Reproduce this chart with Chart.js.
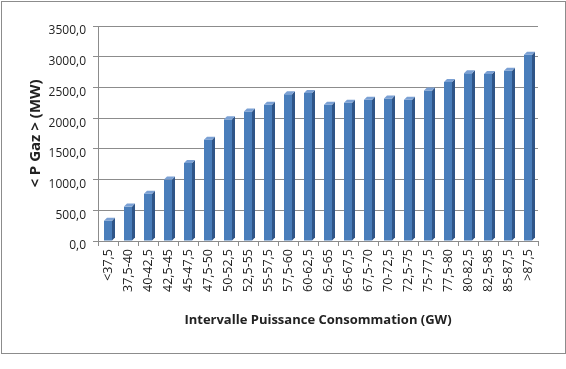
<!DOCTYPE html>
<html>
<head>
<meta charset="utf-8">
<script src="https://cdn.jsdelivr.net/npm/chart.js@4/dist/chart.umd.min.js"></script>
<style>
    html, body { margin: 0; padding: 0; background: #fff; }
    #chartBox { position: absolute; left: 0; top: 0; width: 566px; height: 369px; }
    #frame {
        position: absolute; left: 1px; top: 1px;
        width: 563px; height: 351px;
        border: 1px solid #8c8c8c;
        pointer-events: none;
    }
</style>
</head>
<body>
<div id="chartBox"><canvas id="gazChart"></canvas></div>
<div id="frame"></div>
<script>
// Intervals of consumption (GW)
const categories = [
    '<37,5', '37,5-40', '40-42,5', '42,5-45', '45-47,5', '47,5-50', '50-52,5',
    '52,5-55', '55-57,5', '57,5-60', '60-62,5', '62,5-65', '65-67,5', '67,5-70',
    '70-72,5', '72,5-75', '75-77,5', '77,5-80', '80-82,5', '82,5-85', '85-87,5', '>87,5'
];
// Mean gas power (MW)
const gazValues = [
    330, 560, 770, 1000, 1270, 1650, 1980, 2110, 2220, 2390, 2410,
    2220, 2250, 2300, 2320, 2300, 2450, 2590, 2730, 2720, 2770, 3030
];
const yTicks = [0, 500, 1000, 1500, 2000, 2500, 3000, 3500];

const fontFamily = "'Open Sans', 'Liberation Sans', sans-serif";

// small 3D look for the columns: side and top faces
const depthPlugin = {
    id: 'depth',
    afterDatasetsDraw(chart) {
        const ctx = chart.ctx;
        const meta = chart.getDatasetMeta(0);
        const d = 3;
        ctx.save();
        meta.data.forEach(bar => {
            const right = bar.x + bar.width / 2;
            const left = bar.x - bar.width / 2;
            // side face
            ctx.fillStyle = '#2f5588';
            ctx.beginPath();
            ctx.moveTo(right, bar.y);
            ctx.lineTo(right + d, bar.y - d);
            ctx.lineTo(right + d, bar.base - d);
            ctx.lineTo(right, bar.base);
            ctx.closePath();
            ctx.fill();
            // top face
            ctx.fillStyle = '#7aa0d4';
            ctx.beginPath();
            ctx.moveTo(left, bar.y);
            ctx.lineTo(left + d, bar.y - d);
            ctx.lineTo(right + d, bar.y - d);
            ctx.lineTo(right, bar.y);
            ctx.closePath();
            ctx.fill();
        });
        ctx.restore();
    }
};

new Chart(document.getElementById('gazChart'), {
    type: 'bar',
    data: {
        labels: categories,
        datasets: [{
            data: gazValues,
            backgroundColor: '#4a7ebb',
            borderWidth: 0,
            categoryPercentage: 1,
            barPercentage: 0.4,
        }],
    },
    options: {
        responsive: true,
        maintainAspectRatio: false,
        animation: false,
        layout: { padding: { left: 0, right: 28, top: 26, bottom: 35 } },
        plugins: {
            legend: { display: false },
            tooltip: { enabled: false },
        },
        scales: {
            x: {
                afterFit: axis => { axis.height = 93; },
                grid: { display: true, drawOnChartArea: false, tickLength: 5, color: '#8c8c8c', offset: true },
                border: { color: '#8c8c8c' },
                ticks: {
                    color: '#222',
                    font: { family: fontFamily, size: 12.5 },
                    minRotation: 90,
                    maxRotation: 90,
                    autoSkip: false,
                    padding: 3,
                },
                title: {
                    display: true,
                    text: 'Intervalle Puissance Consommation (GW)',
                    color: '#222',
                    font: { family: fontFamily, size: 13, weight: 'bold' },
                    padding: { top: 0, bottom: 6 },
                },
            },
            y: {
                min: 0,
                max: 3500,
                afterFit: axis => { axis.width = 98; },
                afterBuildTicks: axis => { axis.ticks = yTicks.map(v => ({ value: v })); },
                grid: { color: '#8c8c8c', tickLength: 5 },
                border: { color: '#8c8c8c' },
                ticks: {
                    color: '#222',
                    font: { family: fontFamily, size: 12 },
                    labelOffset: 5,
                    padding: 7,
                    callback: v => v.toFixed(1).replace('.', ','),
                },
                title: {
                    display: true,
                    text: '< P Gaz > (MW)',
                    color: '#222',
                    font: { family: fontFamily, size: 15, weight: 'bold' },
                    padding: { top: 27, bottom: 0 },
                },
            },
        },
    },
    plugins: [depthPlugin],
});
</script>
</body>
</html>
